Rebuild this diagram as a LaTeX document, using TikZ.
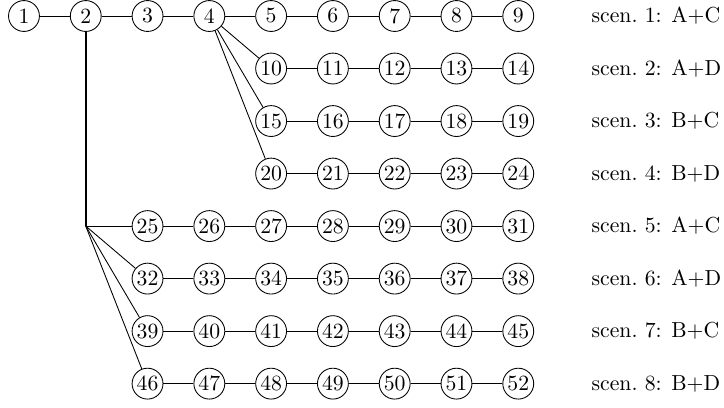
\documentclass[tikz,border=0pt]{standalone}
\usepackage{tikz}
\usetikzlibrary{calc,positioning}

\begin{document}
\begin{tikzpicture}[every node/.style={font=\normalsize},
    vtx/.style={circle, draw, inner sep=0.5pt, minimum size=5mm},
    scenlbl/.style={anchor=west, inner sep=0pt},
    trunk/.style={line width=0.8pt}]
  \useasboundingbox (-0.388,0.259) rectangle (11.33,-6.34);
  % main row
  \foreach \i in {1,...,9}
    \node[vtx] (n\i) at (\i-1,0) {\i};
  \foreach \i [evaluate=\i as \j using int(\i+1)] in {1,...,8}
    \draw (n\i) -- (n\j);
  % branches after node 4
  \foreach \r/\s in {1/10, 2/15, 3/20} {
    \foreach \k in {0,...,4} {
      \pgfmathtruncatemacro\m{\s+\k}
      \node[vtx] (n\m) at (4+\k,-0.85*\r) {\m};
    }
    \foreach \k in {0,...,3} {
      \pgfmathtruncatemacro\a{\s+\k}
      \pgfmathtruncatemacro\b{\s+\k+1}
      \draw (n\a) -- (n\b);
    }
    \draw (n4) -- (n\s);
  }
  % branches after node 2
  \coordinate (split) at (1,-0.85*4);
  \draw[trunk] (n2) -- (split);
  \foreach \r/\s in {4/25, 5/32, 6/39, 7/46} {
    \foreach \k in {0,...,6} {
      \pgfmathtruncatemacro\m{\s+\k}
      \node[vtx] (n\m) at (2+\k,-0.85*\r) {\m};
    }
    \foreach \k in {0,...,5} {
      \pgfmathtruncatemacro\a{\s+\k}
      \pgfmathtruncatemacro\b{\s+\k+1}
      \draw (n\a) -- (n\b);
    }
    \draw (split) -- (n\s);
  }
  % scenario labels
  \foreach \r/\txt in {0/A+C, 1/A+D, 2/B+C, 3/B+D, 4/A+C, 5/A+D, 6/B+C, 7/B+D} {
    \pgfmathtruncatemacro\sc{\r+1}
    \node[scenlbl] (lbl\sc) at (9.18,-0.85*\r) {scen.~\sc: \txt};
  }
\end{tikzpicture}
\end{document}
